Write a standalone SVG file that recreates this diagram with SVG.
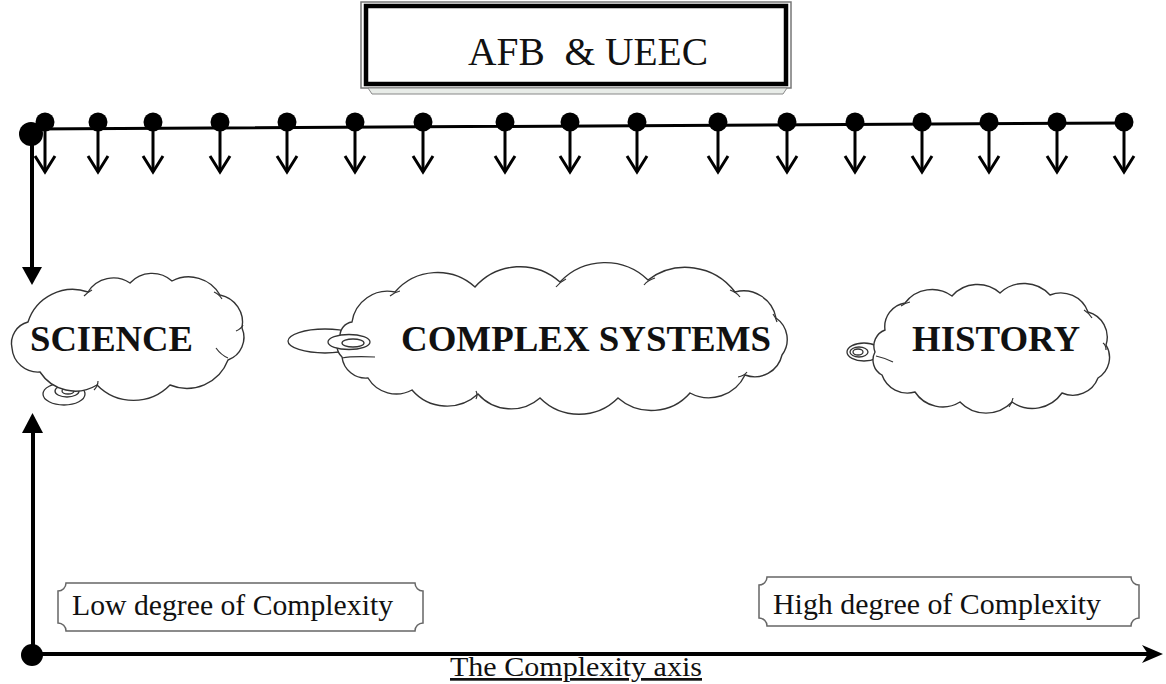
<svg xmlns="http://www.w3.org/2000/svg" xmlns:xlink="http://www.w3.org/1999/xlink" width="1166" height="684" viewBox="0 0 1166 684">
<style>
.serif{font-family:"Liberation Serif","Times New Roman",serif;fill:#111}
.cloud{fill:#fff;stroke:#333;stroke-width:1.4}
.tail{fill:#fff;stroke:#333;stroke-width:1.3}
.inner{fill:none;stroke:#333;stroke-width:1.2}
.plaque{fill:#fff;stroke:#666;stroke-width:1.5}
.wire{stroke:#000;fill:none;stroke-linecap:round}
.dot{fill:#000}
.big{font-weight:bold;font-size:36px}
</style>
<defs>
<g id="tick">
<line x1="0" y1="122" x2="0" y2="172" stroke="#000" stroke-width="3"/>
<polyline points="-10,156 0,172 10,156" fill="none" stroke="#000" stroke-width="3" stroke-linejoin="miter"/>
<circle cx="0" cy="122" r="9.5" fill="#000"/>
</g>
</defs>

<g id="title">
<rect x="361" y="2" width="430" height="86" fill="#fff" stroke="#777" stroke-width="1.5"/>
<rect x="366" y="6" width="420" height="78" fill="#fff" stroke="#000" stroke-width="4.5"/>
<polygon points="368,88 787,88 783,94 372,94" fill="#e8ece8" stroke="#888" stroke-width="1"/>
<text class="serif" x="588" y="65" font-size="40" text-anchor="middle" textLength="240" lengthAdjust="spacingAndGlyphs" xml:space="preserve">AFB  &amp; UEEC</text>
</g>

<g id="connectors">
<line class="wire" x1="30" y1="129" x2="1125" y2="123" stroke-width="3"/>
<use xlink:href="#tick" x="45"/>
<use xlink:href="#tick" x="98"/>
<use xlink:href="#tick" x="153"/>
<use xlink:href="#tick" x="220"/>
<use xlink:href="#tick" x="287"/>
<use xlink:href="#tick" x="355"/>
<use xlink:href="#tick" x="423"/>
<use xlink:href="#tick" x="505"/>
<use xlink:href="#tick" x="570"/>
<use xlink:href="#tick" x="637"/>
<use xlink:href="#tick" x="718"/>
<use xlink:href="#tick" x="787"/>
<use xlink:href="#tick" x="855"/>
<use xlink:href="#tick" x="922"/>
<use xlink:href="#tick" x="989"/>
<use xlink:href="#tick" x="1057"/>
<use xlink:href="#tick" x="1124"/>
<circle class="dot" cx="31" cy="134" r="12"/>
<line class="wire" x1="32" y1="134" x2="32" y2="270" stroke-width="4"/>
<polygon points="22,267 42,267 32,285" fill="#000"/>
<line class="wire" x1="33" y1="430" x2="33" y2="654" stroke-width="4"/>
<polygon points="22,433 43,433 32.5,413" fill="#000"/>
<line class="wire" x1="33" y1="654" x2="1150" y2="654" stroke-width="4"/>
<polygon points="1163,654 1142,645 1148,654 1142,663" fill="#000"/>
<circle class="dot" cx="32" cy="655" r="11"/>
</g>

<g id="science">
<ellipse class="tail" cx="64" cy="394" rx="21" ry="11"/>
<ellipse class="tail" cx="67" cy="391" rx="12" ry="6"/>
<ellipse class="tail" cx="68" cy="391" rx="6" ry="3"/>
<path class="cloud" d="M28,322 A47,47 0 0 1 88,292 A30,30 0 0 1 130,283 A30,30 0 0 1 172,281 A36,36 0 0 1 220,295 A28,28 0 0 1 242,328 A24,24 0 0 1 228,360 A44,44 0 0 1 170,385 A51,51 0 0 1 97,385 A42,42 0 0 1 40,372 A26,26 0 0 1 12,348 A22,22 0 0 1 28,322 Z"/>
<path class="inner" d="M84,296 Q88,292 92,290 M214,292 Q219,294 222,299 M236,331 Q241,329 243,325 M228,358 Q221,355 216,348 M98,381 Q98,386 94,390"/>
<text class="serif big" x="30" y="351" textLength="163" lengthAdjust="spacingAndGlyphs">SCIENCE</text>
</g>

<g id="complex-systems">
<ellipse class="tail" cx="325" cy="341" rx="37" ry="12"/>
<path class="cloud" d="M352,322 A36,36 0 0 1 395,292 A56,56 0 0 1 475,287 A60,60 0 0 1 560,282 A62,62 0 0 1 648,280 A62,62 0 0 1 735,292 A33,33 0 0 1 776,318 A26,26 0 0 1 782,355 A28,28 0 0 1 745,375 A40,40 0 0 1 690,393 A51,51 0 0 1 618,398 A55,55 0 0 1 540,398 A44,44 0 0 1 478,394 A46,46 0 0 1 412,390 A33,33 0 0 1 368,378 A24,24 0 0 1 342,357 A16,16 0 0 1 340,336 A14,14 0 0 1 352,322 Z"/>
<path class="inner" d="M390,296 Q395,292 400,291 M556,287 Q560,282 566,279 M644,285 Q648,280 655,278 M730,290 Q736,292 740,297 M777,322 Q776,318 773,314 M747,372 Q744,376 738,377 M476,391 Q478,395 476,399 M342,358 Q352,356 375,357"/>
<ellipse class="tail" cx="349" cy="342" rx="21" ry="7.5"/>
<ellipse class="tail" cx="353" cy="343" rx="11" ry="4"/>
<text class="serif big" x="401" y="351" textLength="370" lengthAdjust="spacingAndGlyphs">COMPLEX SYSTEMS</text>
</g>

<g id="history">
<ellipse class="tail" cx="864" cy="352" rx="17" ry="9"/>
<ellipse class="tail" cx="859" cy="352" rx="9" ry="5"/>
<ellipse class="tail" cx="858" cy="352" rx="5" ry="3"/>
<path class="cloud" d="M885,330 A24,24 0 0 1 905,303 A34,34 0 0 1 952,296 A34,34 0 0 1 1000,293 A35,35 0 0 1 1050,295 A29,29 0 0 1 1088,312 A26,26 0 0 1 1106,345 A24,24 0 0 1 1098,378 A27,27 0 0 1 1062,393 A36,36 0 0 1 1012,402 A36,36 0 0 1 960,402 A33,33 0 0 1 915,392 A27,27 0 0 1 882,375 A17,17 0 0 1 875,352 A17,17 0 0 1 885,330 Z"/>
<path class="inner" d="M901,306 Q905,303 910,302 M1084,310 Q1089,313 1092,318 M1103,343 Q1106,345 1106,350 M1013,398 Q1012,403 1009,407 M876,356 Q885,358 893,362"/>
<text class="serif big" x="912" y="351" textLength="168" lengthAdjust="spacingAndGlyphs">HISTORY</text>
</g>

<g id="low-label">
<path class="plaque" d="M66,583 H415 A8,8 0 0 0 423,591 V623 A8,8 0 0 0 415,631 H66 A8,8 0 0 0 58,623 V591 A8,8 0 0 0 66,583 Z"/>
<text class="serif" x="72" y="615" font-size="29" textLength="321" lengthAdjust="spacingAndGlyphs">Low degree of Complexity</text>
</g>

<g id="high-label">
<path class="plaque" d="M767,577 H1131 A8,8 0 0 0 1139,585 V618 A8,8 0 0 0 1131,626 H767 A8,8 0 0 0 759,618 V585 A8,8 0 0 0 767,577 Z"/>
<text class="serif" x="773" y="614" font-size="29" textLength="328" lengthAdjust="spacingAndGlyphs">High degree of Complexity</text>
</g>

<g id="axis-label">
<text class="serif" x="450" y="676" font-size="27" textLength="252" lengthAdjust="spacingAndGlyphs" text-decoration="underline">The Complexity axis</text>
</g>
</svg>
